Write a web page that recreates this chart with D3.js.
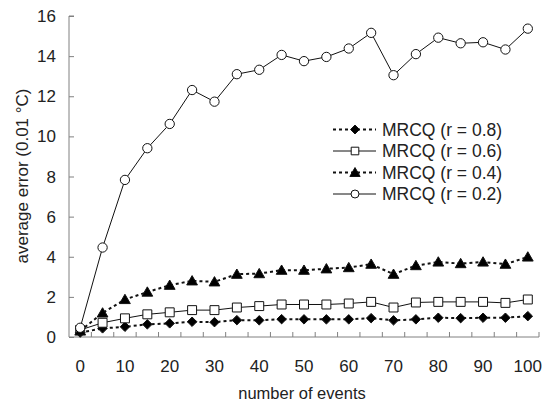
<!DOCTYPE html>
<html><head><meta charset="utf-8">
<script src="https://cdn.jsdelivr.net/npm/d3@7"></script>
<style>body{margin:0;background:#fff}svg{display:block}text{font-family:"Liberation Sans",Arial,sans-serif;fill:#222}</style>
</head><body><svg id="c" width="543" height="404"></svg>
<script>
const events = [0,5,10,15,20,25,30,35,40,45,50,55,60,65,70,75,80,85,90,95,100];
const xTickLabels = [0,10,20,30,40,50,60,70,80,90,100];
const yTicks = [0,2,4,6,8,10,12,14,16];
const seriesNames = ["MRCQ (r = 0.8)","MRCQ (r = 0.6)","MRCQ (r = 0.4)","MRCQ (r = 0.2)"];
const r08 = [0.22,0.43,0.51,0.63,0.68,0.76,0.74,0.84,0.83,0.89,0.88,0.88,0.88,0.94,0.83,0.88,0.96,0.94,0.96,0.96,1.04];
const r06 = [0.35,0.71,0.93,1.13,1.23,1.34,1.34,1.47,1.54,1.62,1.62,1.62,1.67,1.75,1.47,1.72,1.75,1.75,1.75,1.70,1.87];
const r04 = [0.30,1.20,1.87,2.24,2.58,2.80,2.75,3.13,3.16,3.33,3.33,3.40,3.46,3.63,3.13,3.56,3.74,3.66,3.74,3.63,3.99];
const r02 = [0.46,4.46,7.83,9.41,10.62,12.31,11.73,13.10,13.32,14.06,13.75,13.96,14.38,15.16,13.05,14.10,14.92,14.64,14.69,14.33,15.37];

const svg = d3.select("#c");
const L = 69, R = 539, T = 16, B = 337;
const x = d3.scaleBand().domain(events).range([L, R]);
const y = d3.scaleLinear().domain([0,16]).range([B, T]);
const cx = d => x(d) + x.bandwidth()/2;
const axisColor = "#808080";

// Y axis (ticks pointing inward)
const ya = svg.append("g").attr("transform", `translate(${L},0)`)
  .call(d3.axisRight(y).tickValues(yTicks).tickSize(5).tickFormat(""));
ya.select(".domain").attr("stroke", axisColor).attr("d", `M5,${T}H0V${B}`);
ya.selectAll(".tick line").attr("stroke", axisColor);
svg.append("g").selectAll("text").data(yTicks).join("text")
  .attr("x", 56).attr("y", d => y(d)).attr("dy", "0.36em")
  .attr("text-anchor", "end").attr("font-size", 17).text(d => d);

// X axis: ticks at category boundaries, pointing inward
const bounds = events.slice(1).map(d => x(d)).concat([R]);
const xa = svg.append("g");
xa.append("line").attr("x1", L).attr("x2", R).attr("y1", B).attr("y2", B).attr("stroke", axisColor);
xa.selectAll("line.t").data(bounds).join("line").attr("class","t")
  .attr("x1", d => d).attr("x2", d => d).attr("y1", B).attr("y2", B-5).attr("stroke", axisColor);
xa.selectAll("text").data(xTickLabels).join("text")
  .attr("x", d => cx(d)).attr("y", 366).attr("dy","0.36em").attr("text-anchor","middle").attr("font-size", 17).text(d => d);

svg.append("text").attr("x", 302).attr("y", 393).attr("dy","0.36em").attr("text-anchor","middle").attr("font-size", 16.5).text("number of events");
svg.append("text").attr("transform","translate(22,176) rotate(-90)").attr("dy","0.36em").attr("text-anchor","middle").attr("font-size", 17).text("average error (0.01 °C)");

const diamond = {draw(ctx, size){ const r = Math.sqrt(size/2); ctx.moveTo(0,-r); ctx.lineTo(r,0); ctx.lineTo(0,r); ctx.lineTo(-r,0); ctx.closePath(); }};
const styles = [
  {data: r08, dash: "3,3", width: 2, marker: diamond, size: 45, lsize: 40, fill: "#000", dy: 0},
  {data: r06, dash: null, width: 1, marker: d3.symbolSquare, size: 80, lsize: 58, fill: "#fff", dy: 0},
  {data: r04, dash: "3,3", width: 2, marker: d3.symbolTriangle, size: 50, lsize: 46, fill: "#000", dy: 1},
  {data: r02, dash: null, width: 1, marker: d3.symbolCircle, size: 68, lsize: 50, fill: "#fff", dy: 0}
];
const line = d3.line().x((d,i) => cx(events[i])).y(d => y(d));
styles.forEach(s => {
  const g = svg.append("g");
  g.append("path").attr("d", line(s.data)).attr("fill","none").attr("stroke","#111")
    .attr("stroke-width", s.width).attr("stroke-dasharray", s.dash);
  g.selectAll("path.m").data(s.data).join("path").attr("class","m")
    .attr("transform", (d,i) => `translate(${cx(events[i])},${y(d) + s.dy})`)
    .attr("d", d3.symbol().type(s.marker).size(s.size)())
    .attr("fill", s.fill).attr("stroke","#111").attr("stroke-width", 1);
});

// Legend
const legY = [129.5, 151, 172.5, 194];
styles.forEach((s, i) => {
  const g = svg.append("g").attr("transform", `translate(0,${legY[i]})`);
  g.append("line").attr("x1", 333).attr("x2", 376).attr("y1", 0).attr("y2", 0)
    .attr("stroke","#111").attr("stroke-width", s.width).attr("stroke-dasharray", s.dash);
  g.append("path").attr("transform", `translate(355,${s.dy})`)
    .attr("d", d3.symbol().type(s.marker).size(s.lsize)())
    .attr("fill", s.fill).attr("stroke","#111");
  g.append("text").attr("x", 382).attr("y", 0).attr("dy","0.36em").attr("font-size", 17.5).text(seriesNames[i]);
});
</script></body></html>
